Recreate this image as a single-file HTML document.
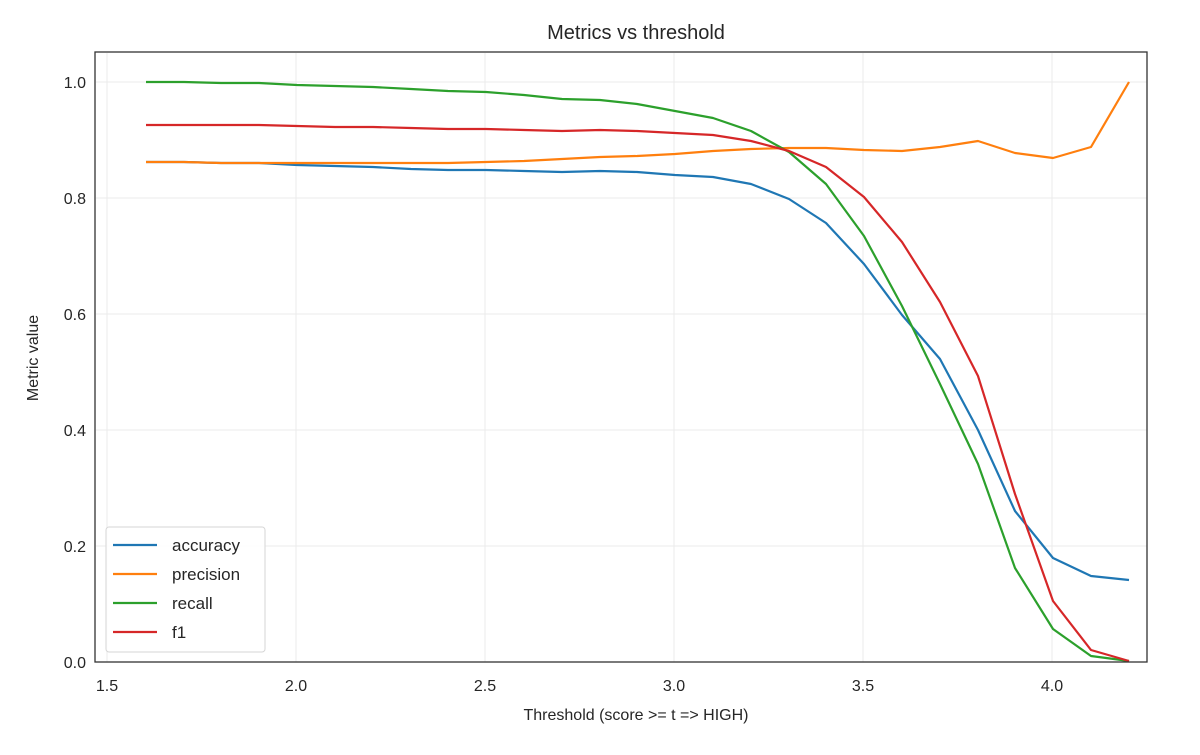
<!DOCTYPE html><html><head><style>body{margin:0;background:#fff}svg{font-family:"Liberation Sans","DejaVu Sans",sans-serif}</style></head><body>
<svg width="1200" height="750" xmlns="http://www.w3.org/2000/svg">
<rect width="1200" height="750" fill="#fff"/>
<g stroke="#ebebeb" stroke-width="1">
<line x1="107" y1="53" x2="107" y2="662"/><line x1="296" y1="53" x2="296" y2="662"/><line x1="485" y1="53" x2="485" y2="662"/><line x1="674" y1="53" x2="674" y2="662"/><line x1="863" y1="53" x2="863" y2="662"/><line x1="1052" y1="53" x2="1052" y2="662"/>
<line x1="96" y1="82" x2="1147" y2="82"/><line x1="96" y1="198" x2="1147" y2="198"/><line x1="96" y1="314" x2="1147" y2="314"/><line x1="96" y1="430" x2="1147" y2="430"/><line x1="96" y1="546" x2="1147" y2="546"/>
</g>
<g fill="none" stroke-width="2.2" stroke-linejoin="round">
<polyline stroke="#1f77b4" points="146,162 184,162 221,163 259,163 297,165 335,166 373,167 411,169 448,170 486,170 524,171 562,172 600,171 637,172 675,175 713,177 751,184 789,199 826,223 864,264 902,315 940,359 978,430 1015,511 1053,558 1091,576 1129,580"/>
<polyline stroke="#ff7f0e" points="146,162 184,162 221,163 259,163 297,163 335,163 373,163 411,163 448,163 486,162 524,161 562,159 600,157 637,156 675,154 713,151 751,149 789,148 826,148 864,150 902,151 940,147 978,141 1015,153 1053,158 1091,147 1129,82"/>
<polyline stroke="#2ca02c" points="146,82 184,82 221,83 259,83 297,85 335,86 373,87 411,89 448,91 486,92 524,95 562,99 600,100 637,104 675,111 713,118 751,131 789,152 826,184 864,236 902,306 940,384 978,464 1015,568 1053,629 1091,656 1129,661"/>
<polyline stroke="#d62728" points="146,125 184,125 221,125 259,125 297,126 335,127 373,127 411,128 448,129 486,129 524,130 562,131 600,130 637,131 675,133 713,135 751,141 789,151 826,167 864,197 902,242 940,302 978,376 1015,494 1053,601 1091,650 1129,661"/>
</g>
<rect x="95" y="52" width="1052" height="610" fill="none" stroke="#333" stroke-width="1.3"/>
<g font-size="16" fill="#262626" text-anchor="middle">
<text x="107" y="691">1.5</text><text x="296" y="691">2.0</text><text x="485" y="691">2.5</text><text x="674" y="691">3.0</text><text x="863" y="691">3.5</text><text x="1052" y="691">4.0</text>
</g>
<g font-size="16" fill="#262626" text-anchor="end">
<text x="86" y="88">1.0</text><text x="86" y="204">0.8</text><text x="86" y="320">0.6</text><text x="86" y="436">0.4</text><text x="86" y="552">0.2</text><text x="86" y="668">0.0</text>
</g>
<text x="636" y="720" font-size="16" fill="#262626" text-anchor="middle">Threshold (score &gt;= t =&gt; HIGH)</text>
<text x="38" y="358" font-size="16" fill="#262626" text-anchor="middle" transform="rotate(-90 38 358)">Metric value</text>
<text x="636" y="39" font-size="20" fill="#262626" text-anchor="middle">Metrics vs threshold</text>
<rect x="106" y="527" width="159" height="125" rx="3" fill="#fff" fill-opacity="0.85" stroke="#d6d6d6"/>
<g stroke-width="2.2">
<line x1="113" y1="545" x2="157" y2="545" stroke="#1f77b4"/><line x1="113" y1="574" x2="157" y2="574" stroke="#ff7f0e"/><line x1="113" y1="603" x2="157" y2="603" stroke="#2ca02c"/><line x1="113" y1="632" x2="157" y2="632" stroke="#d62728"/>
</g>
<g font-size="17" fill="#262626">
<text x="172" y="551">accuracy</text><text x="172" y="580">precision</text><text x="172" y="609">recall</text><text x="172" y="638">f1</text>
</g>
</svg></body></html>
